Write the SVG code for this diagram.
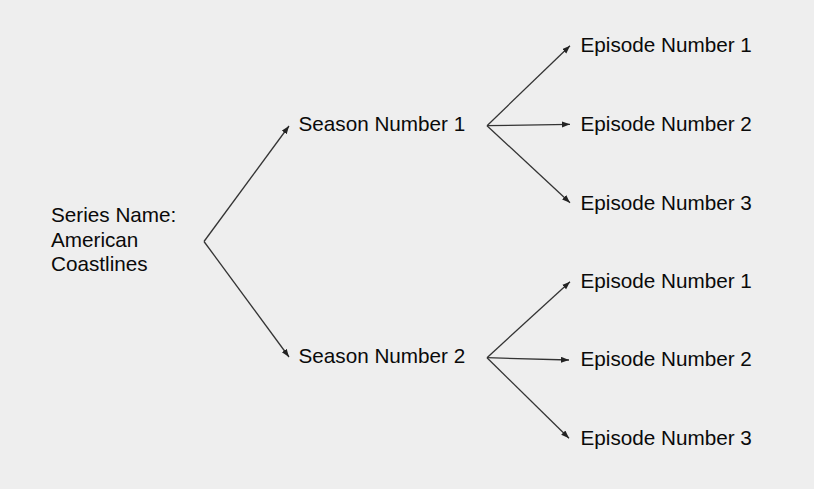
<svg xmlns="http://www.w3.org/2000/svg" width="814" height="489" viewBox="0 0 814 489">
  <defs>
    <marker id="arrow" markerUnits="userSpaceOnUse" markerWidth="9" markerHeight="7" refX="8" refY="3" orient="auto">
      <path d="M0,0 L8,3 L0,6 z" fill="#222"/>
    </marker>
    <style>
      .lbl { font-family: "Liberation Sans", Arial, sans-serif; font-size: 20.7px; fill: #0a0a0a; }
      .edge { stroke: #333; stroke-width: 1.3; fill: none; marker-end: url(#arrow); }
    </style>
  </defs>
  <rect width="814" height="489" fill="#eeeeee"/>
  <g id="connectors">
    <line class="edge" x1="204" y1="241.5" x2="289" y2="126"/>
    <line class="edge" x1="204" y1="241.5" x2="289" y2="357"/>
    <line class="edge" x1="487" y1="125.7" x2="570" y2="45.7"/>
    <line class="edge" x1="487" y1="125.7" x2="570" y2="124.3"/>
    <line class="edge" x1="487" y1="125.7" x2="570" y2="202.7"/>
    <line class="edge" x1="487" y1="357.7" x2="570" y2="281.7"/>
    <line class="edge" x1="487" y1="357.7" x2="569" y2="360"/>
    <line class="edge" x1="487" y1="357.7" x2="569" y2="438.3"/>
  </g>
  <g id="series">
    <text class="lbl" x="51" y="221.7">Series Name:</text>
    <text class="lbl" x="51" y="246.5">American</text>
    <text class="lbl" x="51" y="271.3">Coastlines</text>
  </g>
  <g id="season1"><text class="lbl" x="298.5" y="131">Season Number 1</text></g>
  <g id="season2"><text class="lbl" x="298.5" y="362.5">Season Number 2</text></g>
  <g id="s1e1"><text class="lbl" x="580.5" y="51.7">Episode Number 1</text></g>
  <g id="s1e2"><text class="lbl" x="580.5" y="131">Episode Number 2</text></g>
  <g id="s1e3"><text class="lbl" x="580.5" y="209.5">Episode Number 3</text></g>
  <g id="s2e1"><text class="lbl" x="580.5" y="287.5">Episode Number 1</text></g>
  <g id="s2e2"><text class="lbl" x="580.5" y="365.5">Episode Number 2</text></g>
  <g id="s2e3"><text class="lbl" x="580.5" y="444.5">Episode Number 3</text></g>
</svg>
